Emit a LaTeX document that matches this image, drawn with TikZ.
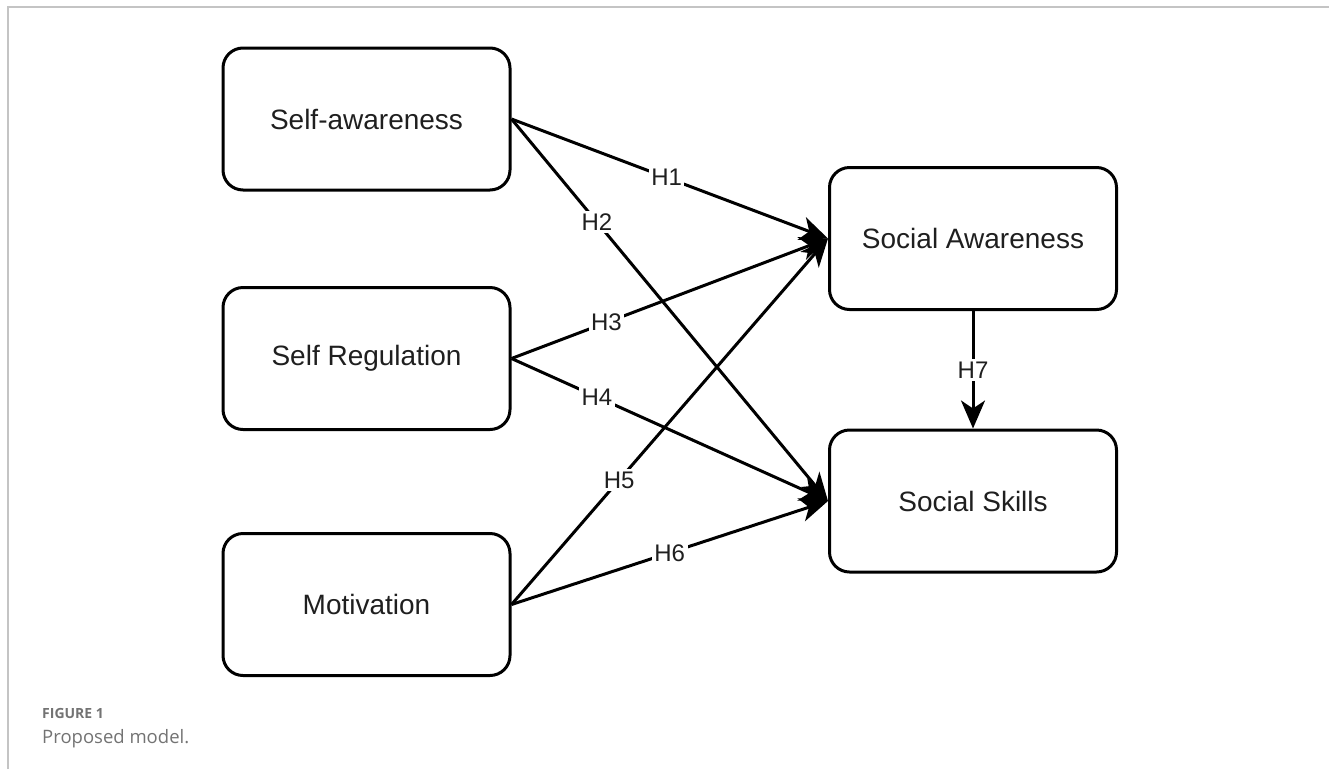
\documentclass[tikz,border=0pt]{standalone}
\usepackage{fontspec}
\setmainfont{Liberation Sans}
\newfontfamily\capfont{Open Sans}
\usetikzlibrary{arrows.meta}
\definecolor{framegray}{HTML}{C4C4C4}
\definecolor{capgray}{HTML}{737373}
\begin{document}
\begin{tikzpicture}[
	x=1pt,y=-1pt,
	construct/.style={draw,line width=3pt,rounded corners=20pt,minimum width=287pt,minimum height=142pt,font=\fontsize{28}{32}\selectfont,text=black!88},
	path/.style={line width=3pt,-{Stealth[length=28pt,width=24pt,inset=8pt]}},
	hyp/.style={fill=white,inner sep=2.5pt,font=\fontsize{24}{28}\selectfont,text=black!88},
]
	\useasboundingbox (0,0) rectangle (1329,769);
	\draw[framegray,line width=2pt] (8,769) -- (8,7) -- (1329,7);
	\node[construct] (selfaw) at (366.5,119) {Self-awareness};
	\node[construct] (selfreg) at (366.5,358.5) {Self Regulation};
	\node[construct] (motiv) at (366.5,604.5) {Motivation};
	\node[construct] (socaw) at (973,238.5) {Social Awareness};
	\node[construct] (socsk) at (973,501) {Social Skills};
	\draw[path] (selfaw.east) -- node[hyp,pos=0.49]{H1} (socaw.west);
	\draw[path] (selfaw.east) -- node[hyp,pos=0.27]{H2} (socsk.west);
	\draw[path] (selfreg.east) -- node[hyp,pos=0.3]{H3} (socaw.west);
	\draw[path] (selfreg.east) -- node[hyp,pos=0.27]{H4} (socsk.west);
	\draw[path] (motiv.east) -- node[hyp,pos=0.34]{H5} (socaw.west);
	\draw[path] (motiv.east) -- node[hyp,pos=0.5]{H6} (socsk.west);
	\draw[path] (socaw.south) -- node[hyp]{H7} (socsk.north);
	\node[anchor=base west,inner sep=0pt,text=capgray,font=\capfont\bfseries\fontsize{14}{16}\selectfont] (fig) at (42,718) {FIGURE 1};
	\node[anchor=base west,inner sep=0pt,text=capgray,font=\capfont\fontsize{18.5}{22}\selectfont] (cap) at (42,743) {Proposed model.};
\end{tikzpicture}
\end{document}
